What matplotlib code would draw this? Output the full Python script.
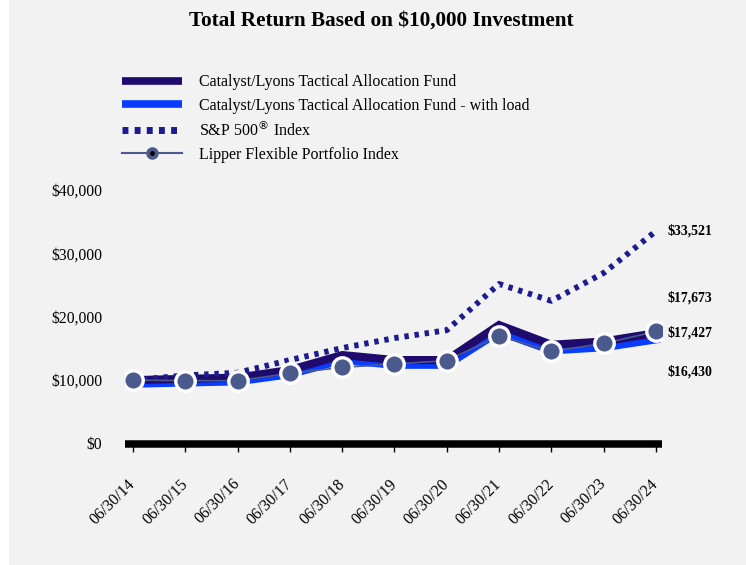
import matplotlib
matplotlib.use("Agg")
import matplotlib.pyplot as plt
from matplotlib.lines import Line2D
from matplotlib.patches import Rectangle
from matplotlib.legend_handler import HandlerTuple
from matplotlib.ticker import FuncFormatter

dates = ["06/30/14", "06/30/15", "06/30/16", "06/30/17", "06/30/18", "06/30/19",
         "06/30/20", "06/30/21", "06/30/22", "06/30/23", "06/30/24"]
fund = [10000, 10200, 10400, 11600, 13960, 13170, 13170, 18700, 15580, 16100, 17427]
fund_load = [9428, 9617, 9805, 10936, 13162, 12417, 12417, 17630, 14689, 15179, 16430]
sp500 = [10000, 10742, 11171, 13170, 15064, 16632, 17880, 25175, 22502, 26911, 33521]
lipper = [10000, 9920, 9900, 11070, 12010, 12550, 13070, 17000, 14530, 15790, 17673]

names = ["Catalyst/Lyons Tactical Allocation Fund",
         "Catalyst/Lyons Tactical Allocation Fund - with load",
         "S&P 500$^{\u00ae}$ Index",
         "Lipper Flexible Portfolio Index"]
end_labels = ["$17,427", "$16,430", "$33,521", "$17,673"]
end_offsets = [0, -23, 0, 24]  # points (label placement)

c_fund = "#1f0a6e"
c_load = "#0a3cff"
c_sp = "#1c1c8e"
c_lip = "#4a5a8c"

plt.rcParams['font.family'] = ['Liberation Serif', 'DejaVu Serif']
fig = plt.figure(figsize=(7.46, 5.65), dpi=100, facecolor="white")
fig.patches.append(Rectangle((9/746, 0), 1 - 9/746, 1, transform=fig.transFigure,
                             facecolor="#f2f2f2", edgecolor="none", zorder=-10))

ax = fig.add_axes([125/746, (565-443.5)/565, (662-125)/746, (443.5-190)/565])
ax.set_facecolor("none")
x = list(range(len(dates)))

l_load, = ax.plot(x, fund_load, color=c_load, lw=5.8, solid_joinstyle="miter", zorder=2)
l_fund, = ax.plot(x, fund, color=c_fund, lw=5.8, solid_joinstyle="miter", zorder=3)
l_sp, = ax.plot(x, sp500, color=c_sp, lw=4.2, linestyle=(0, (0.75, 1.0)), zorder=4)
l_lip, = ax.plot(x, lipper, color=c_lip, lw=1.2, marker="o", markersize=14,
                 markerfacecolor=c_lip, markeredgecolor="white", markeredgewidth=2.4, zorder=5)

ax.set_xlim(-0.153, 10.115)
ax.set_ylim(0, 40000)
ax.set_yticks([0, 10000, 20000, 30000, 40000])
ax.yaxis.set_major_formatter(FuncFormatter(lambda v, p: "${:,.0f}".format(v)))
ax.tick_params(axis="y", length=0, pad=16.5, labelsize=11.3)
ax.set_xticks(x)
ax.set_xticklabels(dates, rotation=45, ha="right", va="center", rotation_mode="anchor", fontsize=11.5)
ax.tick_params(axis="x", length=5.4, width=1, color="black", pad=22)
for s in ["top", "right", "left"]:
    ax.spines[s].set_visible(False)
ax.spines["bottom"].set_linewidth(5.4)
ax.spines["bottom"].set_color("black")
ax.spines["bottom"].set_capstyle("butt")

series_vals = [fund, fund_load, sp500, lipper]
for vals, lab, off in zip(series_vals, end_labels, end_offsets):
    ax.annotate(lab, xy=(x[-1], vals[-1]), xytext=(8, off), textcoords="offset points",
                ha="left", va="center", fontsize=10, fontweight="bold", annotation_clip=False)

fig.text(381/746, 1 - 21/565, "Total Return Based on $10,000 Investment", ha="center", va="center",
         fontsize=15.3, fontweight="bold")

h_lip = (Line2D([], [], color=c_lip, lw=1.5, marker="o", markersize=8,
                markerfacecolor=c_lip, markeredgecolor=c_lip),
         Line2D([], [], color="none", marker="o", markersize=2.5,
                markerfacecolor="black", markeredgecolor="black"))
handles = [Line2D([], [], color=c_fund, lw=5.5, solid_capstyle="butt"),
           Line2D([], [], color=c_load, lw=5.5, solid_capstyle="butt"),
           Line2D([], [], color=c_sp, lw=5, linestyle=(0, (0.85, 0.9))),
           h_lip]
leg = fig.legend(handles, names, loc="upper left", bbox_to_anchor=(122/746, 1 - 74.5/565),
                 frameon=False, fontsize=11.5, handlelength=3.75, handletextpad=1.1,
                 labelspacing=0.44, borderpad=0, borderaxespad=0,
                 handler_map={tuple: HandlerTuple(ndivide=1, pad=0)})

fig.savefig("out.png", dpi=100, facecolor=fig.get_facecolor())
